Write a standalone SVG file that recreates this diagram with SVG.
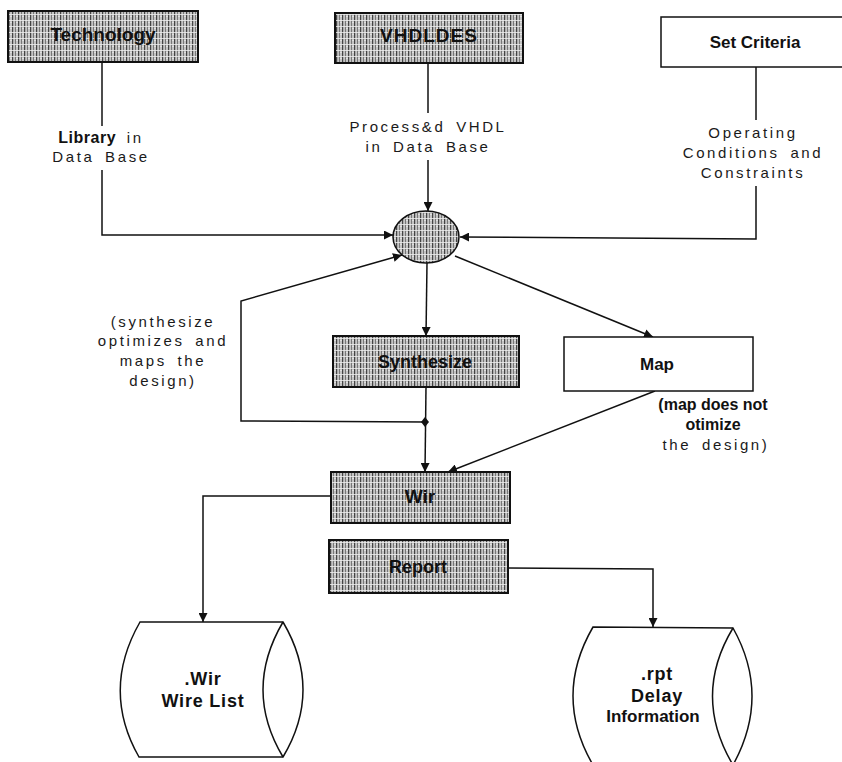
<svg xmlns="http://www.w3.org/2000/svg" width="842" height="762" viewBox="0 0 842 762">
<style>
.box{stroke:#111;stroke-width:2}
.plain{fill:#fff;stroke:#111;stroke-width:1.5}
.lbl{font-family:"Liberation Sans",Arial,sans-serif;font-weight:bold;fill:#111;text-anchor:middle}
.note{font-family:"Liberation Sans",Arial,sans-serif;fill:#1a1a1a;text-anchor:middle;font-size:15px;letter-spacing:2.6px;word-spacing:4px}
.edge{fill:none;stroke:#111;stroke-width:1.5}
</style>
<defs>
<pattern id="hatch" width="6" height="6" patternUnits="userSpaceOnUse">
<rect width="6" height="6" fill="#c4c4c4"/>
<rect x="0" width="1.2" height="6" fill="#444"/>
<rect x="3" width="1" height="6" fill="#777"/>
<rect y="2" width="6" height="0.8" fill="#f0f0f0"/>
<rect x="4.5" y="4" width="1" height="1" fill="#fafafa"/>
</pattern>
<marker id="arr" viewBox="0 0 10 10" refX="10" refY="5" markerWidth="9" markerHeight="9" markerUnits="userSpaceOnUse" orient="auto">
<path d="M0,0 L10,5 L0,10 z" fill="#111"/>
</marker>
</defs>

<g id="connectors">
<line class="edge" x1="102" y1="62" x2="102" y2="126"/>
<polyline class="edge" points="102,170 102,235 393,235" marker-end="url(#arr)"/>
<line class="edge" x1="428" y1="63" x2="428" y2="113"/>
<line class="edge" x1="428" y1="160" x2="428" y2="211" marker-end="url(#arr)"/>
<line class="edge" x1="756" y1="67" x2="756" y2="120"/>
<polyline class="edge" points="756,186 756,239 460,237" marker-end="url(#arr)"/>
<line class="edge" x1="427" y1="263" x2="426" y2="336" marker-end="url(#arr)"/>
<line class="edge" x1="455" y1="256" x2="653" y2="337" marker-end="url(#arr)"/>
<line class="edge" x1="426" y1="387" x2="425" y2="472" marker-end="url(#arr)"/>
<polyline class="edge" points="425,422 241,421 241,301 402,255" marker-end="url(#arr)"/>
<path d="M425,417 L429,422 L425,427 L421,422 z" fill="#111"/>
<line class="edge" x1="655" y1="391" x2="448" y2="472" marker-end="url(#arr)"/>
<polyline class="edge" points="331,496 203,496 203,622" marker-end="url(#arr)"/>
<polyline class="edge" points="508,568 653,569 653,627" marker-end="url(#arr)"/>
</g>

<g id="technology">
<rect class="box" x="8" y="11" width="190" height="51" fill="url(#hatch)"/>
<text class="lbl" x="103" y="41" font-size="19">Technology</text>
</g>
<g id="lbl-library">
<text class="note" x="101" y="143"><tspan font-weight="bold" letter-spacing="0.5" fill="#111" font-size="16">Library</tspan> in</text>
<text class="note" x="101" y="162">Data Base</text>
</g>

<g id="vhdldes">
<rect class="box" x="335" y="13" width="188" height="50" fill="url(#hatch)"/>
<text class="lbl" x="429" y="42" font-size="19" letter-spacing="1">VHDLDES</text>
</g>
<g id="lbl-processed">
<text class="note" x="428" y="132">Process&amp;d VHDL</text>
<text class="note" x="428" y="152">in Data Base</text>
</g>

<g id="set-criteria">
<rect class="plain" x="661" y="17" width="190" height="50"/>
<text class="lbl" x="755" y="48" font-size="17">Set Criteria</text>
</g>
<g id="lbl-operating">
<text class="note" x="753" y="138">Operating</text>
<text class="note" x="753" y="158">Conditions and</text>
<text class="note" x="753" y="178">Constraints</text>
</g>

<g id="hub">
<ellipse cx="426" cy="237" rx="33" ry="26" fill="url(#hatch)" stroke="#111" stroke-width="1.5"/>
</g>

<g id="lbl-synth-note">
<text class="note" x="163" y="327">(synthesize</text>
<text class="note" x="163" y="346">optimizes and</text>
<text class="note" x="163" y="366">maps the</text>
<text class="note" x="163" y="386">design)</text>
</g>

<g id="synthesize">
<rect class="box" x="333" y="336" width="186" height="51" fill="url(#hatch)"/>
<text class="lbl" x="425" y="368" font-size="18">Synthesize</text>
</g>

<g id="map">
<rect class="plain" x="564" y="337" width="189" height="54"/>
<text class="lbl" x="657" y="370" font-size="17">Map</text>
</g>
<g id="lbl-map-note">
<text class="lbl" x="713" y="410" font-size="16">(map does not</text>
<text class="lbl" x="713" y="430" font-size="16">otimize</text>
<text class="note" x="716" y="450">the design)</text>
</g>

<g id="wir">
<rect class="box" x="331" y="472" width="179" height="51" fill="url(#hatch)"/>
<text class="lbl" x="420" y="503" font-size="19">Wir</text>
</g>

<g id="report">
<rect class="box" x="329" y="540" width="179" height="53" fill="url(#hatch)"/>
<text class="lbl" x="418" y="573" font-size="18">Report</text>
</g>

<g id="wire-list">
<path d="M140,622 L283,622 Q323,690 283,757 L139,757 Q101,690 140,622 z" fill="#fff" stroke="#111" stroke-width="1.5"/>
<path d="M283,622 Q243,690 283,757" fill="none" stroke="#111" stroke-width="1.5"/>
<text class="lbl" x="203" y="685" font-size="18" letter-spacing="0.8">.Wir</text>
<text class="lbl" x="203" y="707" font-size="18" letter-spacing="0.8">Wire List</text>
</g>

<g id="delay-info">
<path d="M593,627 L733,628 Q771,696 733,765 L593,765 Q553,696 593,627 z" fill="#fff" stroke="#111" stroke-width="1.5"/>
<path d="M733,628 Q692,696 733,765" fill="none" stroke="#111" stroke-width="1.5"/>
<text class="lbl" x="657" y="680" font-size="18" letter-spacing="0.8">.rpt</text>
<text class="lbl" x="657" y="702" font-size="18" letter-spacing="0.8">Delay</text>
<text class="lbl" x="653" y="722" font-size="17">Information</text>
</g>
</svg>
